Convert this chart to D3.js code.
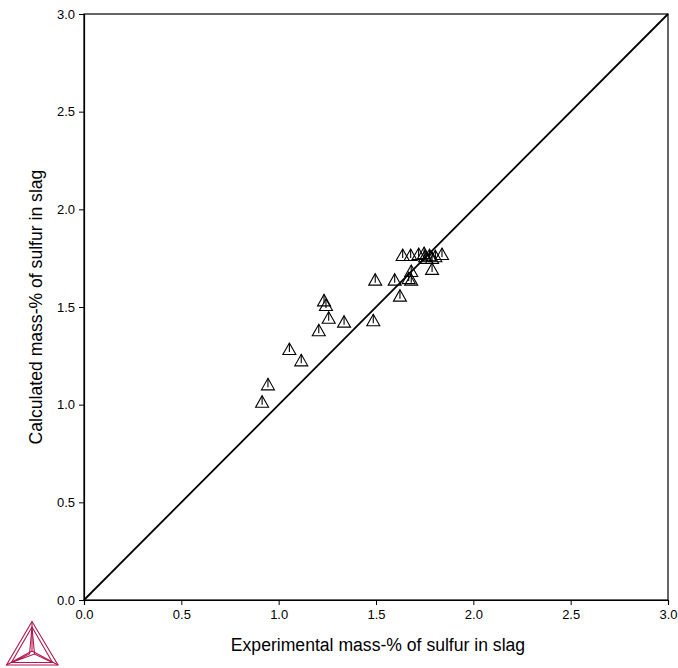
<!DOCTYPE html>
<html>
<head>
<meta charset="utf-8">
<script src="https://cdn.jsdelivr.net/npm/d3@7"></script>
<style>
  html, body { margin: 0; padding: 0; background: #fff; }
  svg { display: block; font-family: "Liberation Sans", Arial, sans-serif; }
</style>
</head>
<body>
<svg id="chart" width="678" height="668"></svg>
<script>
// Experimental vs. calculated sulfur content in slag (mass-%)
const experimental = [0.915, 0.945, 1.055, 1.116, 1.206, 1.233, 1.243, 1.257, 1.336, 1.486,
  1.496, 1.596, 1.623, 1.668, 1.681, 1.681, 1.788, 1.637, 1.678, 1.719, 1.747, 1.760, 1.788,
  1.839, 1.752, 1.775, 1.805];
const calculated = [1.015, 1.104, 1.285, 1.227, 1.381, 1.534, 1.510, 1.445, 1.425, 1.432,
  1.640, 1.640, 1.558, 1.648, 1.640, 1.684, 1.695, 1.766, 1.766, 1.771, 1.776, 1.751, 1.751,
  1.771, 1.760, 1.765, 1.760];
const xTicks = [0.0, 0.5, 1.0, 1.5, 2.0, 2.5, 3.0];
const yTicks = [0.0, 0.5, 1.0, 1.5, 2.0, 2.5, 3.0];
const xTitle = "Experimental mass-% of sulfur in slag";
const yTitle = "Calculated mass-% of sulfur in slag";

const svg = d3.select("#chart");
const plot = { left: 84, right: 668, top: 14, bottom: 600 };

const x = d3.scaleLinear().domain([0, 3]).range([plot.left, plot.right]);
const y = d3.scaleLinear().domain([0, 3]).range([plot.bottom, plot.top]);

// frame
svg.append("rect")
  .attr("x", plot.left).attr("y", plot.top)
  .attr("width", plot.right - plot.left).attr("height", plot.bottom - plot.top)
  .attr("fill", "none").attr("stroke", "#000").attr("stroke-width", 1.2);

// axes
const xAxis = d3.axisBottom(x).tickValues(xTicks).tickFormat(d3.format(".1f")).tickSize(5).tickPadding(5);
const yAxis = d3.axisLeft(y).tickValues(yTicks).tickFormat(d3.format(".1f")).tickSize(5).tickPadding(4);

const gx = svg.append("g").attr("transform", `translate(0,${plot.bottom})`).call(xAxis);
const gy = svg.append("g").attr("transform", `translate(${plot.left},0)`).call(yAxis);
[gx, gy].forEach(g => {
  g.select(".domain").attr("stroke", "#000").attr("stroke-width", 1.2);
  g.selectAll(".tick line").attr("stroke", "#000").attr("stroke-width", 1);
  g.selectAll(".tick text").attr("fill", "#000").style("font-size", "13px")
    .style("font-family", "'Liberation Sans', Arial, sans-serif");
});

// diagonal y = x
svg.append("line")
  .attr("x1", x(0)).attr("y1", y(0))
  .attr("x2", x(3)).attr("y2", y(3))
  .attr("stroke", "#000").attr("stroke-width", 1.8);

// triangle markers with a stroke from the apex
const pts = experimental.map((d, i) => [d, calculated[i]]);
const mk = svg.append("g").attr("fill", "none").attr("stroke", "#000").attr("stroke-width", 1.1);
pts.forEach(([a, b]) => {
  const cx = x(a), cy = y(b);
  mk.append("path")
    .attr("d", `M${cx},${cy - 6}L${cx + 6.5},${cy + 5.5}L${cx - 6.5},${cy + 5.5}Z`);
  mk.append("line")
    .attr("x1", cx).attr("y1", cy - 6)
    .attr("x2", cx).attr("y2", cy + 3);
});

// axis titles
svg.append("text")
  .attr("x", 378).attr("y", 651)
  .attr("text-anchor", "middle")
  .style("font-size", "17.6px").attr("fill", "#000")
  .text(xTitle);
svg.append("text")
  .attr("transform", `translate(42,${(plot.top + plot.bottom) / 2}) rotate(-90)`)
  .attr("text-anchor", "middle")
  .style("font-size", "17.6px").attr("fill", "#000")
  .text(yTitle);

// logo
const logo = svg.append("g").attr("fill", "none").attr("stroke", "#b3164c").attr("stroke-width", 1.1);
const A = [32, 621.5], B = [6.5, 665], C = [58, 665];
const G = [32, 651];
const tri = (p, q, r) => `M${p[0]},${p[1]}L${q[0]},${q[1]}L${r[0]},${r[1]}Z`;
logo.append("path").attr("d", tri(A, B, C));
logo.append("path").attr("d", tri([32, 627], [11.5, 662.5], [52.5, 662.5]));
logo.append("path").attr("d", `M${A[0]},${A[1]}L${G[0]},${G[1]}M${B[0]},${B[1]}L${G[0]},${G[1]}M${C[0]},${C[1]}L${G[0]},${G[1]}`);
logo.append("path").attr("d", `M32,627L34.5,654M11.5,662.5L34.5,654L52.5,662.5M32,627L29.5,654L11.5,662.5`);
</script>
</body>
</html>
